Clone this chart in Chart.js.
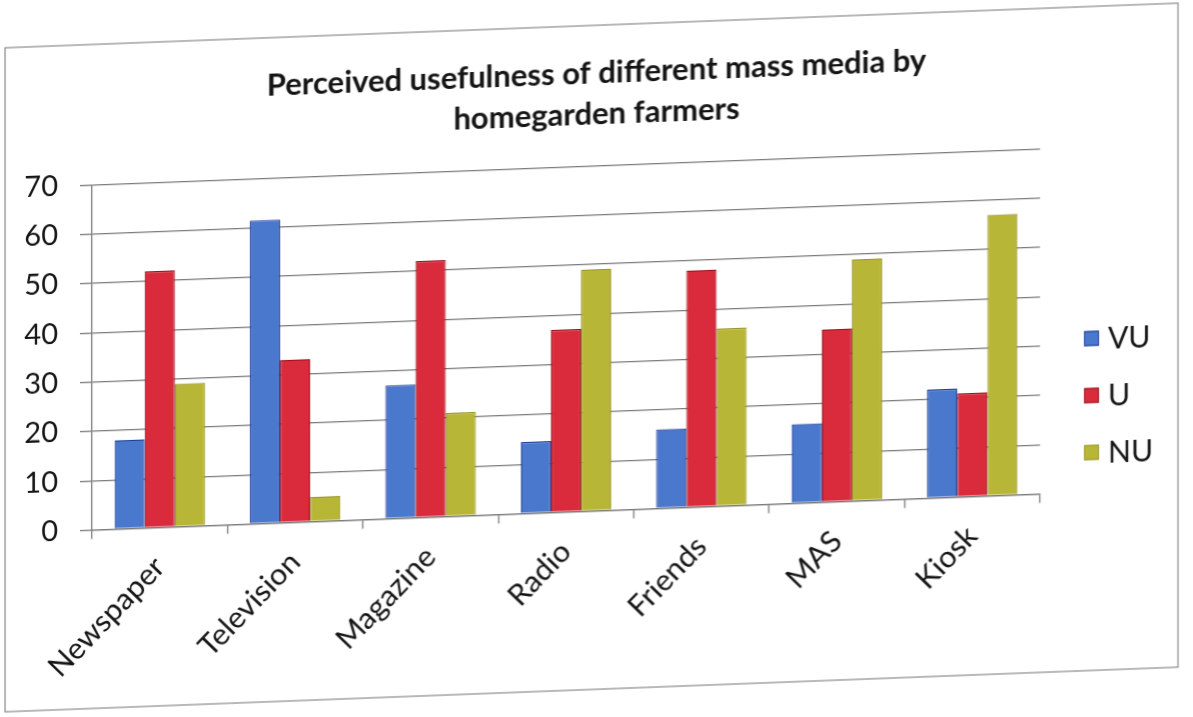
<!DOCTYPE html>
<html>
<head>
<meta charset="utf-8">
<title>Perceived usefulness of different mass media</title>
<script src="https://cdn.jsdelivr.net/npm/chart.js@4/dist/chart.umd.min.js"></script>
<style>
  html, body { margin: 0; padding: 0; background: #fff; overflow: hidden; }
  #sheet {
    position: absolute; left: 0; top: 0; width: 1193px; height: 717px;
    transform: skewY(-2.18deg); transform-origin: 0 0;
  }
  canvas { display: block; }
</style>
</head>
<body>
<div id="sheet"><canvas id="chart" width="1193" height="717"></canvas></div>
<script>
// Media channels and the share of farmers rating each one
const categories = ['Newspaper', 'Television', 'Magazine', 'Radio', 'Friends', 'MAS', 'Kiosk'];
const seriesNames = ['VU', 'U', 'NU'];
const vuValues = [18, 61.5, 27, 14.5, 16, 16, 22];
const uValues  = [52, 33, 52, 37, 48, 35, 21];
const nuValues = [29, 5, 21, 49, 36, 49, 57];
const yTickMin = 0;
const yTickMax = 70;
const yTickStep = 10;
const titleLines = ['Perceived usefulness of different mass media by', 'homegarden farmers'];

const FONT = 'Lato, "Open Sans", "Liberation Sans", sans-serif';
const INK = '#141414';
const GRID = '#7b7b7b';

// Paper frame around the chart
const pageFrame = {
  id: 'pageFrame',
  beforeDraw(chart, args, opts) {
    const c = chart.ctx;
    c.save();
    c.fillStyle = '#ffffff';
    c.fillRect(0, 0, chart.width, chart.height);
    c.strokeStyle = opts.color;
    c.lineWidth = 1.2;
    c.strokeRect(opts.left, opts.top, opts.right - opts.left, opts.bottom - opts.top);
    c.restore();
  }
};

// Vertical legend to the right of the plot
const sideLegend = {
  id: 'sideLegend',
  afterDraw(chart, args, opts) {
    const c = chart.ctx;
    c.save();
    c.font = opts.fontSize + 'px ' + FONT;
    c.textBaseline = 'middle';
    c.textAlign = 'left';
    chart.data.datasets.forEach((ds, i) => {
      const cy = opts.y + i * opts.step;
      const s = opts.box;
      c.fillStyle = ds.backgroundColor;
      c.fillRect(opts.x, cy - s / 2, s, s);
      c.strokeStyle = ds.borderColor;
      c.lineWidth = 1;
      c.strokeRect(opts.x + 0.5, cy - s / 2 + 0.5, s - 1, s - 1);
      c.fillStyle = INK;
      c.fillText(ds.label, opts.x + s + opts.gap, cy + 1);
    });
    c.restore();
  }
};

new Chart(document.getElementById('chart'), {
  type: 'bar',
  data: {
    labels: categories,
    datasets: [
      { label: seriesNames[0], data: vuValues, backgroundColor: '#4a78cc', borderColor: '#1e3c9a', borderWidth: 1.2 },
      { label: seriesNames[1], data: uValues,  backgroundColor: '#d92b3b', borderColor: '#9c1020', borderWidth: 1.2 },
      { label: seriesNames[2], data: nuValues, backgroundColor: '#b8b637', borderColor: '#9a9828', borderWidth: 1.2 }
    ]
  },
  plugins: [pageFrame, sideLegend],
  options: {
    responsive: false,
    animation: false,
    events: [],
    layout: { padding: 0 },
    datasets: { bar: { categoryPercentage: 0.667, barPercentage: 1.0 } },
    plugins: {
      legend: { display: false },
      tooltip: { enabled: false },
      title: {
        display: true,
        text: titleLines,
        color: INK,
        font: { family: FONT, size: 31, weight: 'bold', lineHeight: 1.32 },
        padding: { top: 75.5, bottom: 31 }
      },
      pageFrame: { left: 5, top: 48, right: 1178, bottom: 712, color: '#8a8a8a' },
      sideLegend: { x: 1084, y: 380, step: 57, box: 15, gap: 9, fontSize: 30 }
    },
    scales: {
      x: {
        grid: { display: true, drawOnChartArea: false, drawTicks: true, tickLength: 9, offset: true, color: GRID, lineWidth: 1.3 },
        border: { display: true, color: GRID, width: 1.3 },
        ticks: { color: INK, font: { family: FONT, size: 30 }, minRotation: 45, maxRotation: 45, padding: 13, autoSkip: false },
        afterFit(scale) { scale.height = 183.5; }
      },
      y: {
        min: yTickMin,
        max: yTickMax,
        grid: { color: GRID, lineWidth: 1.3, drawTicks: true, tickLength: 12 },
        border: { display: true, color: GRID, width: 1.3 },
        ticks: { stepSize: yTickStep, color: INK, font: { family: FONT, size: 29 }, padding: 22 },
        afterFit(scale) { scale.width = 92; }
      },
      // empty right-hand band that keeps room for the legend
      legendBand: {
        type: 'linear',
        position: 'right',
        display: true,
        grid: { display: false, drawTicks: false },
        border: { display: false },
        ticks: { display: false },
        afterFit(scale) { scale.width = 153; }
      }
    }
  }
});
</script>
</body>
</html>
